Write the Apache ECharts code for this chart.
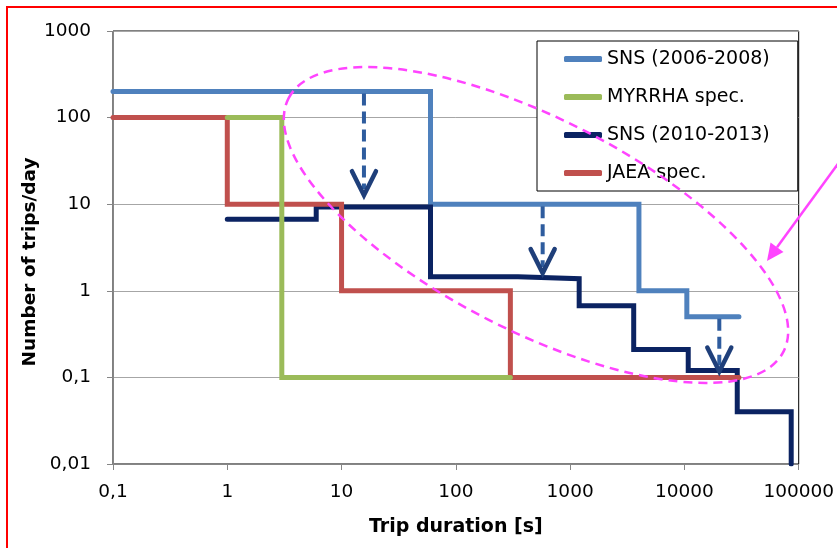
<!DOCTYPE html>
<html>
<head>
<meta charset="utf-8">
<script src="https://cdn.jsdelivr.net/npm/echarts@6/dist/echarts.min.js"></script>
<style>html,body{margin:0;padding:0;background:#fff;}#c{width:837px;height:548px;}</style>
</head>
<body>
<div id="c"></div>
<script>
// ---- data ----
const seriesNames = ['SNS (2006-2008)', 'MYRRHA spec.', 'SNS (2010-2013)', 'JAEA spec.'];
const sns06X = [0.1, 60, 4000, 10500, 30000];
const sns06Y = [200, 10, 1, 0.5, 0.5];
const myrrhaX = [1, 3, 300];
const myrrhaY = [100, 0.1, 0.1];
const sns10X = [1, 6, 60, 350, 1200, 3600, 10800, 29000, 86000];
const sns10Y = [6.7, 9.3, 1.45, 1.38, 0.67, 0.21, 0.12, 0.04, 0.01];
const jaeaX = [0.1, 1, 10, 300, 30000];
const jaeaY = [100, 10, 1, 0.1, 0.1];
// annotation arrows (data coords): x, from y, to y
const arrowX = [15.7, 575, 20200];
const arrowFrom = [200, 10, 0.5];
const arrowTo = [12.7, 1.6, 0.117];

const colors = {
  'SNS (2006-2008)': '#4F81BD',
  'MYRRHA spec.': '#9BBB59',
  'SNS (2010-2013)': '#0B2362',
  'JAEA spec.': '#C0504D'
};

function stepPoints(xs, ys) {
  const pts = [];
  for (let i = 0; i < xs.length - 1; i++) {
    pts.push([xs[i], ys[i]]);
    pts.push([xs[i + 1], ys[i]]);
  }
  pts.push([xs[xs.length - 1], ys[ys.length - 1]]);
  return pts;
}

function fmt(v) {
  return String(Number(Number(v).toPrecision(6))).replace('.', ',');
}

const FONT = 'DejaVu Sans';
const chart = echarts.init(document.getElementById('c'), null, {renderer: 'canvas'});

function lineSeries(name, xs, ys) {
  return {
    name: name, type: 'line', data: stepPoints(xs, ys), symbol: 'none',
    lineStyle: {color: colors[name], width: 5, cap: 'round', join: 'miter'},
    itemStyle: {color: colors[name]},
    animation: false
  };
}

chart.setOption({
  animation: false,
  backgroundColor: '#fff',
  grid: {left: 113, top: 31, right: 34, bottom: 84, show: true, borderColor: '#000', borderWidth: 1},
  legend: {
    data: seriesNames,
    orient: 'vertical',
    left: 537, top: 41,
    padding: [8, 28, 8, 27],
    itemGap: 18,
    itemWidth: 38, itemHeight: 6,
    icon: 'roundRect',
    borderColor: '#000', borderWidth: 1,
    backgroundColor: '#fff',
    textStyle: {fontFamily: FONT, fontSize: 19, color: '#000', lineHeight: 20},
    selectedMode: false
  },
  xAxis: {
    type: 'log', logBase: 10, min: 0.1, max: 100000,
    axisLine: {show: true, lineStyle: {color: '#868686', width: 1}},
    axisTick: {show: true, length: 6, inside: false, lineStyle: {color: '#868686'}},
    splitLine: {show: false},
    minorTick: {show: false},
    axisLabel: {formatter: fmt, fontFamily: FONT, fontSize: 18.5, color: '#000', margin: 19, showMaxLabel: true},
    name: 'Trip duration [s]', nameLocation: 'middle', nameGap: 54,
    nameTextStyle: {fontFamily: FONT, fontSize: 19, fontWeight: 'bold', color: '#000'}
  },
  yAxis: {
    type: 'log', logBase: 10, min: 0.01, max: 1000,
    axisLine: {show: true, lineStyle: {color: '#868686', width: 1}},
    axisTick: {show: true, length: 6, inside: false, lineStyle: {color: '#868686'}},
    splitLine: {show: true, lineStyle: {color: '#A6A6A6', width: 1}},
    axisLabel: {formatter: fmt, fontFamily: FONT, fontSize: 18.5, color: '#000', margin: 22},
    name: ''
  },
  series: [
    lineSeries('SNS (2006-2008)', sns06X, sns06Y),
    lineSeries('SNS (2010-2013)', sns10X, sns10Y),
    lineSeries('JAEA spec.', jaeaX, jaeaY),
    lineSeries('MYRRHA spec.', myrrhaX, myrrhaY)
  ]
});

// ---- annotations ----
const graphics = [];
// red frame
graphics.push({type: 'rect', silent: true, z: 100,
  shape: {x: 7, y: 7, width: 900, height: 700},
  style: {fill: 'none', stroke: '#FF0000', lineWidth: 2}});
// y-axis title
graphics.push({type: 'text', silent: true, z: 100, x: 30, y: 262, rotation: Math.PI / 2,
  style: {text: 'Number of trips/day', fontFamily: FONT, fontSize: 18.5, fontWeight: 'bold', fill: '#000',
    align: 'center', verticalAlign: 'middle'}});
// blue dashed arrows
for (let i = 0; i < arrowX.length; i++) {
  const p0 = chart.convertToPixel({gridIndex: 0}, [arrowX[i], arrowFrom[i]]);
  const p1 = chart.convertToPixel({gridIndex: 0}, [arrowX[i], arrowTo[i]]);
  graphics.push({type: 'line', silent: true, z: 90,
    shape: {x1: p0[0], y1: p0[1] + 2, x2: p1[0], y2: p1[1] - 6},
    style: {stroke: '#2E5C9E', lineWidth: 4, lineDash: [12, 6]}});
  graphics.push({type: 'polyline', silent: true, z: 91,
    shape: {points: [[p1[0] - 12, p1[1] - 24], [p1[0], p1[1]], [p1[0] + 12, p1[1] - 24]]},
    style: {stroke: '#1F3F7A', lineWidth: 4.5, fill: 'none', lineCap: 'round', lineJoin: 'miter'}});
}
// pink dashed ellipse
graphics.push({type: 'ellipse', silent: true, z: 95, x: 536, y: 225, rotation: -0.473,
  shape: {cx: 0, cy: 0, rx: 278, ry: 106},
  style: {fill: 'none', stroke: '#FF44FF', lineWidth: 2.5, lineDash: [9, 6]}});
// pink pointer arrow
(function () {
  const sx = 840, sy = 161, tx = 767, ty = 261;
  const dx = tx - sx, dy = ty - sy, L = Math.hypot(dx, dy);
  const ux = dx / L, uy = dy / L, px = -uy, py = ux;
  const bx = tx - 17 * ux, by = ty - 17 * uy;
  graphics.push({type: 'line', silent: true, z: 96,
    shape: {x1: sx, y1: sy, x2: bx, y2: by}, style: {stroke: '#FF44FF', lineWidth: 2.5}});
  graphics.push({type: 'polygon', silent: true, z: 96,
    shape: {points: [[tx, ty], [bx + 8 * px, by + 8 * py], [bx - 8 * px, by - 8 * py]]},
    style: {fill: '#FF44FF', stroke: 'none'}});
})();
chart.setOption({graphic: graphics});
</script>
</body>
</html>
